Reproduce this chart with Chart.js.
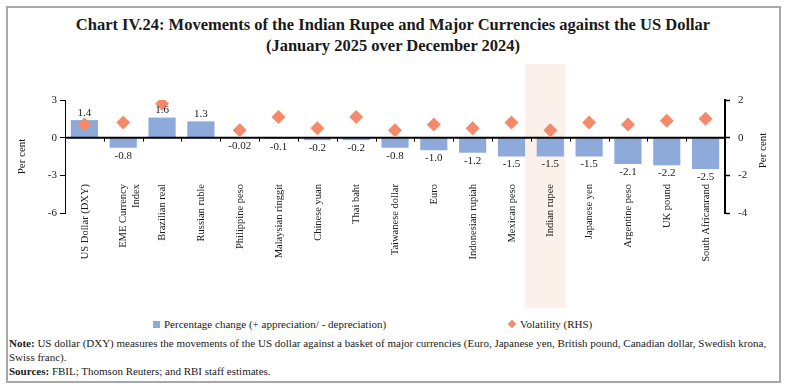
<!DOCTYPE html>
<html><head><meta charset="utf-8">
<script src="https://cdn.jsdelivr.net/npm/chart.js@4/dist/chart.umd.min.js"></script>
<style>
html,body{margin:0;padding:0;background:#fff;}
body{width:786px;height:388px;position:relative;overflow:hidden;font-family:"Liberation Serif",serif;color:#1a1a1a;}
#frame{position:absolute;left:6px;top:6px;width:771px;height:373px;border:2px solid #a8a8a8;}
#title{position:absolute;left:0;top:14px;width:786px;text-align:center;font-weight:bold;font-size:16.5px;line-height:21px;}
#wrap{position:absolute;left:0;top:55px;width:786px;height:260px;}
#legend{position:absolute;top:317px;left:0;width:786px;height:14px;font-size:11px;}
.li{position:absolute;top:0;line-height:14px;white-space:nowrap;}
.sw{display:inline-block;width:7px;height:7px;margin-right:4px;vertical-align:0px;}
.dm{display:inline-block;width:6px;height:6px;margin-right:5px;transform:rotate(45deg);vertical-align:1px;}
#notes{position:absolute;left:9px;top:336px;font-size:11px;line-height:14px;white-space:nowrap;}
</style></head>
<body>
<div id="frame"></div>
<div id="title">Chart IV.24: Movements of the Indian Rupee and Major Currencies against the US Dollar<br>(January 2025 over December 2024)</div>
<div id="wrap"><canvas id="c" width="786" height="260"></canvas></div>
<div id="legend"></div>
<div id="notes"><b>Note:</b> US dollar (DXY) measures the movements of the US dollar against a basket of major currencies (Euro, Japanese yen, British pound, Canadian dollar, Swedish krona,<br>Swiss franc).<br><b>Sources:</b> FBIL; Thomson Reuters; and RBI staff estimates.</div>
<script>
const categories = ['US Dollar (DXY)', ['EME Currency','Index'], 'Brazilian real', 'Russian ruble', 'Philippine peso', 'Malaysian ringgit', 'Chinese yuan', 'Thai baht', 'Taiwanese dollar', 'Euro', 'Indonesian rupiah', 'Mexican peso', 'Indian rupee', 'Japanese yen', 'Argentine peso', 'UK pound', 'South Africanrand'];
const percentChange = [1.4, -0.8, 1.6, 1.3, -0.02, -0.1, -0.2, -0.2, -0.8, -1.0, -1.2, -1.5, -1.5, -1.5, -2.1, -2.2, -2.5];
const volatility = [0.7, 0.8, 1.8, null, 0.4, 1.1, 0.5, 1.1, 0.4, 0.7, 0.5, 0.8, 0.4, 0.8, 0.7, 0.9, 1.0];
const leftTicks = [3, 0, -3, -6];
const rightTicks = [2, 0, -2, -4];
const highlighted = 'Indian rupee';

const BAR = '#8eaadb', DIA = '#f38a6c', BAND = '#fbf1ea', INK = '#1a1a1a';
const FONT = '"Liberation Serif", serif';

const bandPlugin = {
  id: 'band',
  beforeDraw(chart) {
    const xs = chart.scales.x, ca = chart.chartArea, ctx = chart.ctx;
    const i = categories.indexOf(highlighted);
    const w = (ca.right - ca.left) / categories.length;
    const cx = xs.getPixelForValue(i);
    ctx.save(); ctx.fillStyle = BAND;
    ctx.fillRect(cx - w / 2 - 6, ca.top - 36, w + 2, ca.bottom - ca.top + 131);
    ctx.restore();
  }
};
const zeroPlugin = {
  id: 'zero',
  afterDatasetDraw(chart, args) {
    if (args.index !== 0) return;
    const ctx = chart.ctx, ca = chart.chartArea;
    const y0 = chart.scales.y.getPixelForValue(0);
    const w = (ca.right - ca.left) / categories.length;
    ctx.save(); ctx.strokeStyle = '#000';
    ctx.lineWidth = 2;
    ctx.beginPath(); ctx.moveTo(ca.left, y0); ctx.lineTo(ca.right, y0); ctx.stroke();
    ctx.lineWidth = 1;
    ctx.beginPath();
    for (let k = 1; k < categories.length; k++) {
      const x = Math.round(ca.left + k * w) + 0.5;
      ctx.moveTo(x, y0); ctx.lineTo(x, y0 + 4);
    }
    ctx.stroke(); ctx.restore();
  }
};
const labelPlugin = {
  id: 'vlabels',
  afterDatasetsDraw(chart) {
    const ctx = chart.ctx, meta = chart.getDatasetMeta(0);
    ctx.save();
    ctx.font = '11px ' + FONT; ctx.fillStyle = INK;
    ctx.textAlign = 'center'; ctx.textBaseline = 'middle';
    meta.data.forEach((bar, i) => {
      const v = percentChange[i];
      const txt = (v !== 0 && Math.abs(v) < 0.1) ? v.toFixed(2) : v.toFixed(1);
      const y = v >= 0 ? bar.y - 7 : bar.y + 8;
      ctx.fillText(txt, bar.x, y);
    });
    // right axis title, reading upward
    const ca = chart.chartArea;
    ctx.translate(chart.width - 23, (ca.top + ca.bottom) / 2 - 6);
    ctx.rotate(-Math.PI / 2);
    ctx.font = '11px ' + FONT;
    ctx.fillText('Per cent', 0, 0);
    ctx.restore();
  }
};

const chart = new Chart(document.getElementById('c'), {
  type: 'bar',
  data: {
    labels: categories,
    datasets: [
      { type: 'bar', label: 'Percentage change (+ appreciation/ - depreciation)', data: percentChange,
        backgroundColor: BAR, borderWidth: 0, barPercentage: 0.7, categoryPercentage: 1, yAxisID: 'y', order: 1 },
      { type: 'line', label: 'Volatility (RHS)', data: volatility, yAxisID: 'y2', showLine: false,
        pointStyle: 'rectRot', pointRadius: 7, pointHoverRadius: 7, pointBackgroundColor: DIA,
        pointBorderColor: DIA, pointBorderWidth: 0, backgroundColor: DIA, borderColor: DIA, order: 0, spanGaps: false }
    ]
  },
  options: {
    responsive: false, animation: false,
    layout: { padding: { top: 45, left: 0, right: 0, bottom: 0 } },
    plugins: { legend: { display: false }, tooltip: { enabled: false } },
    scales: {
      x: {
        position: 'bottom',
        grid: { display: false, drawTicks: false },
        border: { display: false },
        ticks: { autoSkip: false, minRotation: 90, maxRotation: 90, padding: 29, mirror: true, labelOffset: 13, color: INK,
                 font: { family: FONT, size: 10.5 } },
        afterFit(s) { s.height = 102; }
      },
      y: {
        position: 'left', min: -6, max: 3,
        afterBuildTicks(s) { s.ticks = leftTicks.map(v => ({ value: v })); },
        grid: { drawOnChartArea: false, drawTicks: true, tickLength: 5, tickColor: '#000' },
        border: { display: true, color: '#000', width: 1 },
        ticks: { padding: 3, color: INK, font: { family: FONT, size: 11 }, callback: v => String(v) },
        title: { display: true, text: 'Per cent', color: INK, font: { family: FONT, size: 11 }, padding: { top: 16, bottom: 0 } },
        afterFit(s) { s.width = 65; }
      },
      y2: {
        position: 'right', min: -4, max: 2,
        afterBuildTicks(s) { s.ticks = rightTicks.map(v => ({ value: v })); },
        grid: { drawOnChartArea: false, drawTicks: true, tickLength: 5, tickColor: '#000', tickWidth: 1.5 },
        border: { display: true, color: '#000', width: 2 },
        ticks: { padding: 8, color: INK, font: { family: FONT, size: 11 }, callback: v => String(v) },
        afterFit(s) { s.width = 61; }
      }
    }
  },
  plugins: [bandPlugin, zeroPlugin, labelPlugin]
});

// HTML legend built from the datasets
const legend = document.getElementById('legend');
const lefts = [153, 509];
chart.data.datasets.forEach((ds, i) => {
  const d = document.createElement('div'); d.className = 'li'; d.style.left = lefts[i] + 'px';
  const m = document.createElement('span');
  m.className = i === 0 ? 'sw' : 'dm';
  m.style.background = i === 0 ? ds.backgroundColor : ds.pointBackgroundColor;
  d.appendChild(m); d.appendChild(document.createTextNode(ds.label));
  legend.appendChild(d);
});
</script>
</body></html>
